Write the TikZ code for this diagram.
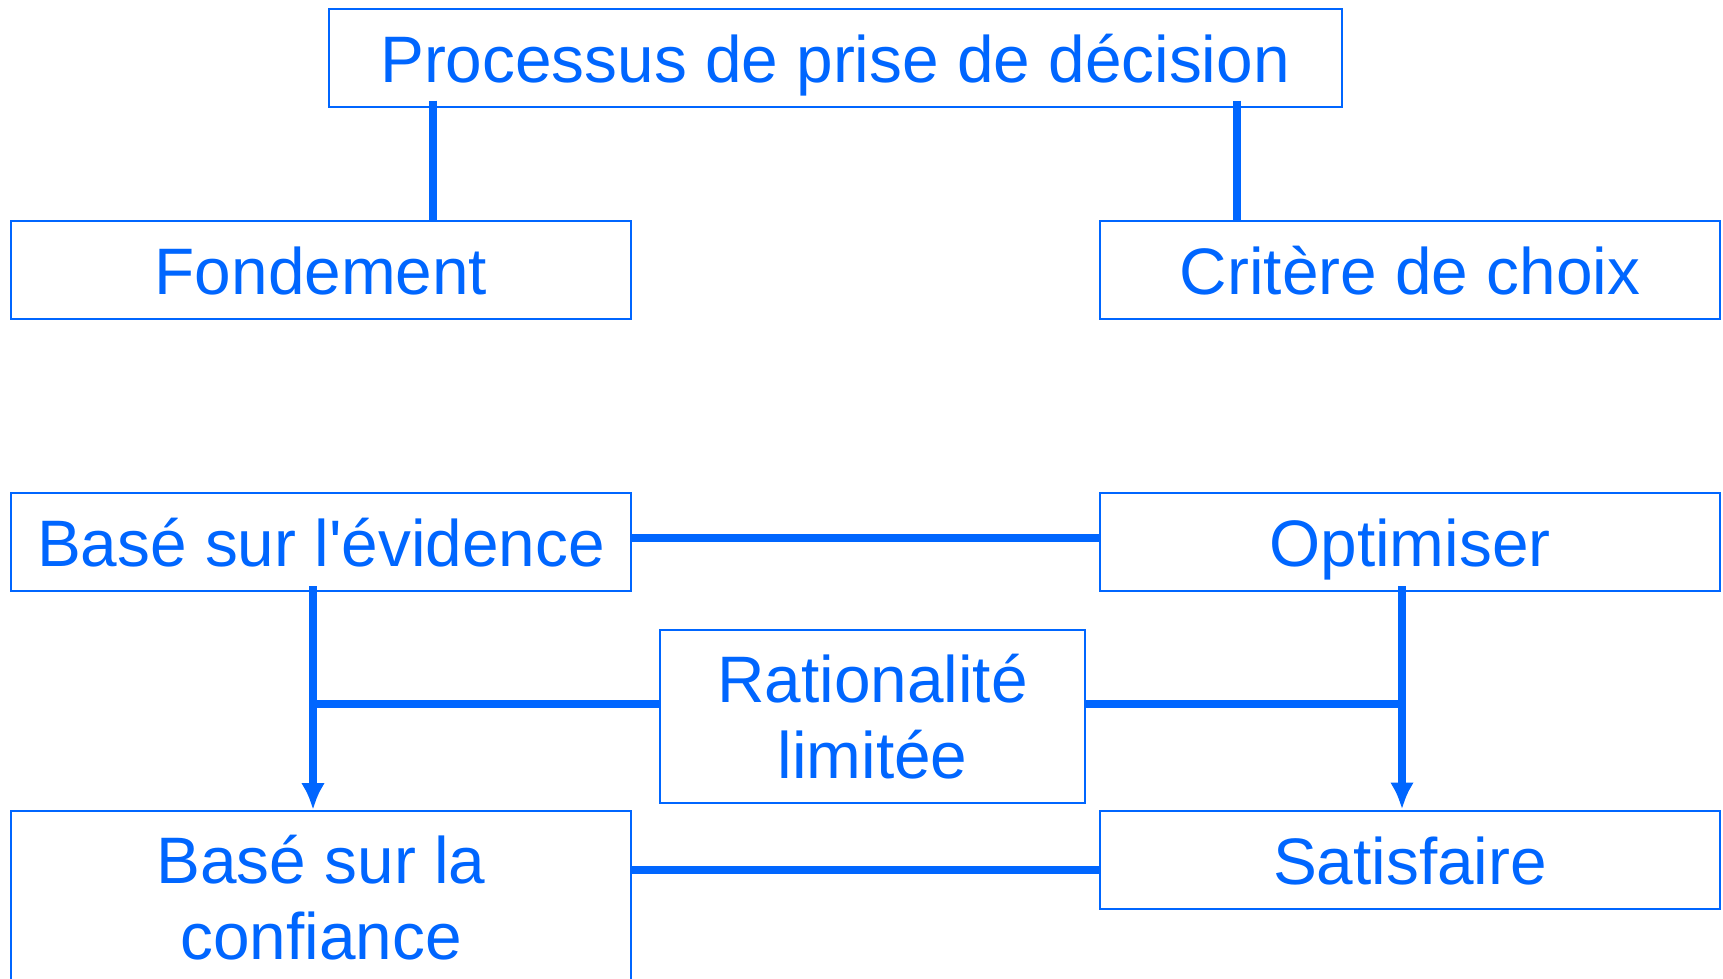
\documentclass[tikz,border=0pt]{standalone}
\usepackage{fontspec}
\setmainfont{Liberation Sans}
\usetikzlibrary{arrows.meta,positioning}
\definecolor{flowblue}{RGB}{0,102,255}

\tikzset{
    box/.style={draw=flowblue, line width=0.02cm, text=flowblue, align=center,
                minimum width=6.2cm, minimum height=0.98cm, inner sep=0pt,
                text height=0.494cm, text depth=0cm,
                font=\fontsize{18.7}{21.5}\selectfont},
    twobox/.style={box, text height=, text depth=, minimum height=1.73cm},
    conn/.style={draw=flowblue, line width=0.08cm},
    connarrow/.style={conn, -{Latex[length=0.27cm,width=0.24cm]}}
}

\begin{document}
\begin{tikzpicture}[]

        \useasboundingbox (0,0) rectangle (17.23,-9.79);

        % Top box and the two branches
        \node[box, minimum width=10.13cm] (proc) at (8.35,-0.577) {Processus de prise de décision};
        \node[box] (fond) at (3.21,-2.70) {Fondement};
        \node[box] (crit) at (14.10,-2.70) {Critère de choix};

        % Four corners and the middle box
        \node[box] (evid) at (3.21,-5.42) {Basé sur l\textquotesingle évidence};
        \node[box] (opti) at (14.10,-5.42) {Optimiser};
        \node[twobox, minimum width=4.25cm] (rati) at (8.725,-7.165) {Rationalité\\limitée};
        \node[twobox] (conf) at (3.21,-8.975) {Basé sur la\\confiance};
        \node[box] (sati) at (14.10,-8.595) {Satisfaire};

        % Vertical links from the top box
        \draw[conn] ([xshift=1.055cm,yshift=0.07cm]proc.south west) -- ([xshift=1.055cm]proc.south west |- fond.north);
        \draw[conn] ([xshift=-1.055cm,yshift=0.07cm]proc.south east) -- ([xshift=-1.055cm]proc.south east |- crit.north);

        % Horizontal links between the columns
        \draw[conn] ([yshift=0.045cm]evid.east) -- ([yshift=0.045cm]evid.east -| opti.west);
        \draw[conn] ([yshift=-0.105cm]sati.west) -- ([yshift=-0.105cm]sati.west -| conf.east);

        % Downward arrows
        \coordinate (evid-down) at ([xshift=-0.08cm,yshift=0.06cm]evid.south);
        \coordinate (opti-down) at ([xshift=-0.08cm,yshift=0.06cm]opti.south);
        \draw[connarrow] (evid-down) -- (evid-down |- conf.north);
        \draw[connarrow] (opti-down) -- (opti-down |- sati.north);

        % Middle box joined to both arrows
        \draw[conn] ([yshift=0.125cm]rati.west) -- ([yshift=0.125cm]rati.west -| evid-down);
        \draw[conn] ([yshift=0.125cm]rati.east) -- ([yshift=0.125cm]rati.east -| opti-down);

    \end{tikzpicture}
\end{document}
